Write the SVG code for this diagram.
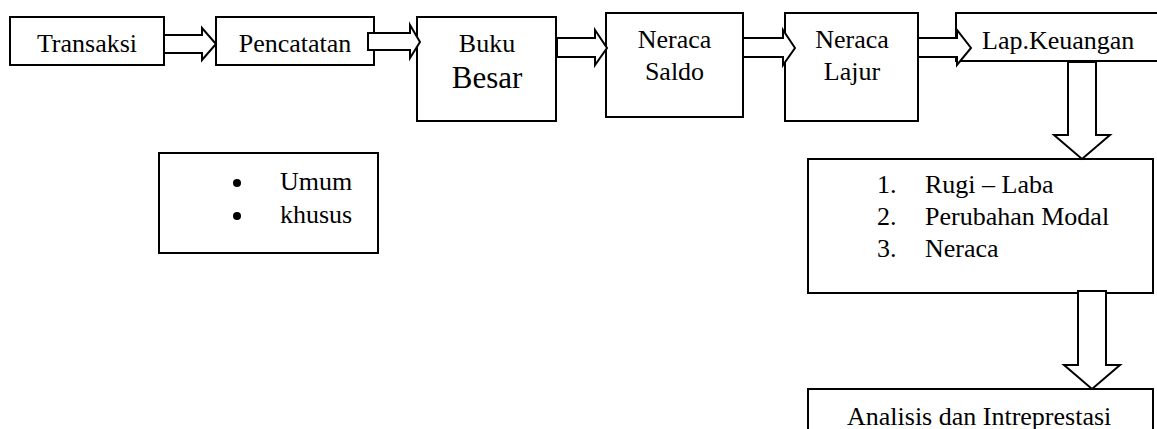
<svg xmlns="http://www.w3.org/2000/svg" width="1157" height="429" viewBox="0 0 1157 429">
<style>
.box{fill:#fff;stroke:#000;stroke-width:2}
.arr{fill:#fff;stroke:#000;stroke-width:2;stroke-linejoin:miter}
text{font-family:"Liberation Serif","Times New Roman",serif;font-size:26px;fill:#000}
.c{text-anchor:middle}
</style>
<rect width="1157" height="429" fill="#fff"/>
<g id="n-transaksi"><rect class="box" x="10" y="17" width="154" height="48"/><text class="c" x="87" y="52">Transaksi</text></g>
<g id="n-pencatatan"><rect class="box" x="216" y="17" width="158" height="48"/><text class="c" x="295" y="52">Pencatatan</text></g>
<g id="n-buku"><rect class="box" x="417" y="17" width="139" height="104"/><text class="c" x="487" y="52">Buku</text><text class="c" x="487" y="88" style="font-size:31px">Besar</text></g>
<g id="n-saldo"><rect class="box" x="606" y="13" width="137" height="104"/><text class="c" x="674.5" y="48">Neraca</text><text class="c" x="674.5" y="80">Saldo</text></g>
<g id="n-lajur"><rect class="box" x="785" y="13" width="133" height="108"/><text class="c" x="852" y="48">Neraca</text><text class="c" x="852" y="80">Lajur</text></g>
<g id="n-lapkeu"><rect class="box" x="956" y="13" width="210" height="48"/><text x="982" y="49">Lap.Keuangan</text></g>
<g id="n-jurnal"><rect class="box" x="159" y="153" width="219" height="100"/><circle cx="237" cy="183" r="4"/><circle cx="237" cy="216" r="4"/><text x="280" y="190">Umum</text><text x="280" y="223">khusus</text></g>
<g id="n-laporan"><rect class="box" x="808" y="159" width="345" height="134"/>
<text x="877" y="193">1.</text><text x="925" y="193">Rugi – Laba</text>
<text x="877" y="225">2.</text><text x="925" y="225">Perubahan Modal</text>
<text x="877" y="257">3.</text><text x="925" y="257">Neraca</text></g>
<g id="n-analisis"><rect class="box" x="808" y="389" width="345" height="60"/><text x="847" y="425">Analisis dan Intreprestasi</text></g>
<g id="connectors">
<polygon class="arr" points="164,35 202,35 202,28 216,44 202,60 202,53 164,53"/>
<polygon class="arr" points="368,33 410,33 410,25 420,42 410,58 410,50 368,50"/>
<polygon class="arr" points="557,38 595,38 595,30 607,48 595,65 595,57 557,57"/>
<polygon class="arr" points="743,38 783,38 783,30 795,48 783,65 783,57 743,57"/>
<polygon class="arr" points="918,38 957,38 957,30 971,48 957,65 957,57 918,57"/>
<polygon class="arr" points="1068,62 1096,62 1096,135 1110,135 1082,159 1054,135 1068,135"/>
<polygon class="arr" points="1078,291 1106,291 1106,365 1120,365 1092,389 1064,365 1078,365"/>
</g>
</svg>
